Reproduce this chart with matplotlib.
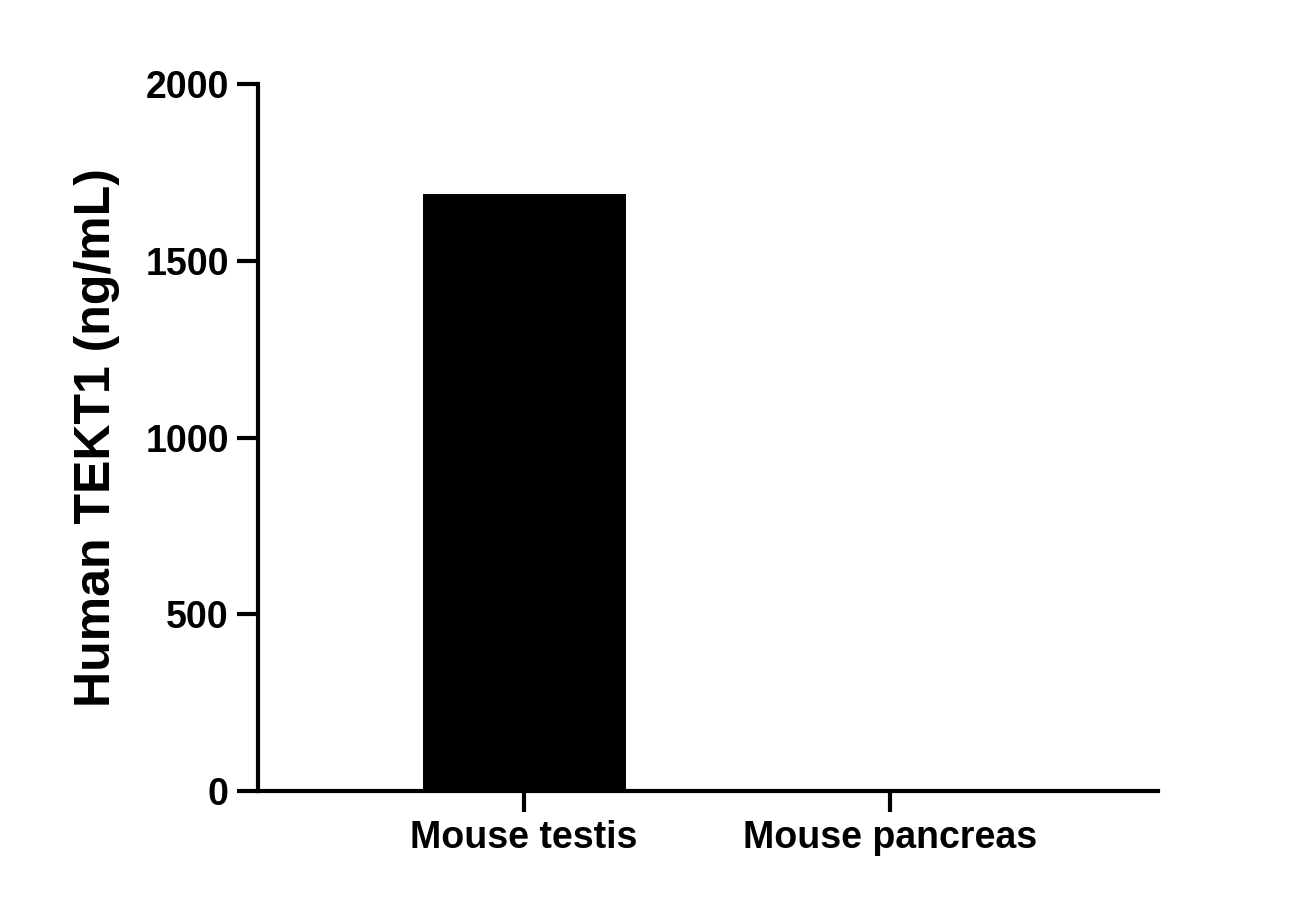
import matplotlib
matplotlib.use("Agg")
import matplotlib.pyplot as plt

categories = ["Mouse testis", "Mouse pancreas"]
values = [1689, 0]
yticks = [0, 500, 1000, 1500, 2000]

plt.rcParams['font.family'] = ['Liberation Sans', 'DejaVu Sans']
plt.rcParams['font.weight'] = 'bold'
fig = plt.figure(figsize=(12.96, 9.08), dpi=100)
ax = fig.add_axes([258/1296, 1-791/908, 900/1296, 707/908])
ax.bar(range(len(categories)), values, width=0.555, color='black')
ax.set_xlim(-0.727, 1.732)
ax.set_ylim(0, 2000)
ax.set_yticks(yticks)
ax.set_yticklabels([str(t) for t in yticks], fontsize=27, fontweight='bold')
ax.set_xticks(range(len(categories)))
ax.set_xticklabels(categories, fontsize=27, fontweight='bold')
ax.set_ylabel("Human TEKT1 (ng/mL)", fontsize=36, fontweight='bold', labelpad=18)
for s in ['top', 'right']:
    ax.spines[s].set_visible(False)
for s in ['left', 'bottom']:
    ax.spines[s].set_linewidth(3)
ax.tick_params(axis='both', width=3, length=15, pad=6)
fig.savefig("out.png", dpi=100)
